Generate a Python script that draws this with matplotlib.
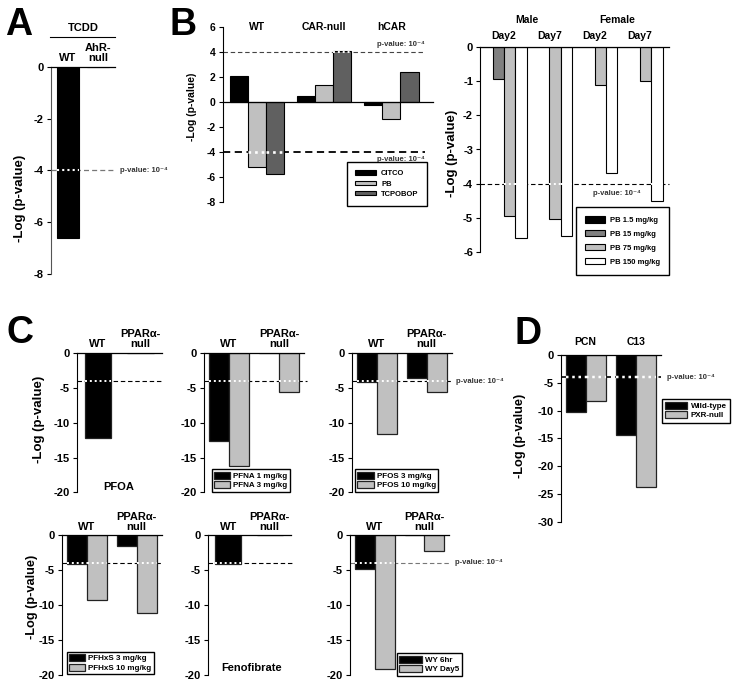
"""Multi-panel -Log(p-value) bar figure (panels A-D)."""

import matplotlib
matplotlib.use("Agg")
import matplotlib.pyplot as plt
from matplotlib.lines import Line2D
import numpy as np

plt.rcParams["font.family"] = ["Liberation Sans", "DejaVu Sans"]
plt.rcParams["font.weight"] = "bold"
plt.rcParams["axes.unicode_minus"] = False

W, H = 733, 682
THR = -4
PLABEL = "p-value: 10\u207b\u2074"
GRAY = "#c0c0c0"

# ---- data ---------------------------------------------------------------
# A: TCDD
a_groups = ["WT", "AhR-\nnull"]
a_tcdd = [-6.6, 0.0]

# B (left): CAR activators
b1_groups = ["WT", "CAR-null", "hCAR"]
b1_series = ["CITCO", "PB", "TCPOBOP"]
b1_colors = ["black", GRAY, "#606060"]
b1_citco = [2.1, 0.5, -0.25]
b1_pb = [-5.2, 1.4, -1.4]
b1_tcpobop = [-5.75, 4.1, 2.4]

# B (right): PB dose / time / sex
b2_sex = ["Male", "Female"]
b2_days = ["Day2", "Day7", "Day2", "Day7"]
b2_series = ["PB 1.5 mg/kg", "PB 15 mg/kg", "PB 75 mg/kg", "PB 150 mg/kg"]
b2_colors = ["black", "#808080", GRAY, "white"]
b2_pb1_5 = [0.0, 0.0, 0.0, 0.0]
b2_pb15 = [-0.93, 0.0, 0.0, 0.0]
b2_pb75 = [-4.95, -5.05, -1.1, -1.0]
b2_pb150 = [-5.6, -5.55, -3.7, -4.5]

# C: PPARa activators
c_groups = ["WT", "PPAR\u03b1-\nnull"]
pfoa = [-12.2, 0.0]
pfna_1 = [-12.6, 0.0]
pfna_3 = [-16.2, -5.6]
pfos_3 = [-4.1, -3.6]
pfos_10 = [-11.6, -5.5]
pfhxs_3 = [-4.2, -1.6]
pfhxs_10 = [-9.3, -11.1]
fenofibrate = [-4.15, 0.0]
wy_6hr = [-4.9, 0.0]
wy_day5 = [-19.2, -2.3]

# D: PXR activators
d_groups = ["PCN", "C13"]
d_series = ["Wild-type", "PXR-null"]
d_wild = [-10.2, -14.4]
d_pxr = [-8.3, -23.8]

c_ticks = [0, -5, -10, -15, -20]

fig = plt.figure(figsize=(W / 100, H / 100), dpi=100)


def px_axes(x0, y0, x1, y1, spine="black"):
    ax = fig.add_axes([x0 / W, 1 - y1 / H, (x1 - x0) / W, (y1 - y0) / H])
    ax.patch.set_visible(False)
    for s in ("top", "right", "bottom"):
        ax.spines[s].set_visible(False)
    ax.spines["left"].set_linewidth(0.8)
    ax.spines["left"].set_color(spine)
    ax.set_xticks([])
    return ax


def finish(ax, yticks, fs=8):
    yticks = list(yticks)
    ax.set_ylim(min(yticks), max(yticks))
    ax.set_yticks(yticks)
    ax.tick_params(axis="y", length=3, width=0.8, pad=2, labelsize=fs)
    ax.axhline(0, color="black", lw=0.9, zorder=4, clip_on=False)


def threshold(ax, y=THR, xmax=1.0, color="black", lw=0.8, dash=(4, 2.5)):
    ax.axhline(y, xmax=xmax, color=color, lw=lw, ls=(0, dash), zorder=1.5,
               clip_on=False)
    for p in list(ax.patches):
        lo, hi = sorted([p.get_y(), p.get_y() + p.get_height()])
        if lo < y < hi:
            ax.plot([p.get_x(), p.get_x() + p.get_width()], [y, y],
                    color="white", lw=lw + 0.6, ls=(0, (1, 1.5)), zorder=3)


def group_labels(ax, xs, labels, dy_px, fs, va="bottom"):
    for x, lab in zip(xs, labels):
        ax.annotate(lab, xy=(x, 1), xycoords=("data", "axes fraction"),
                    xytext=(0, dy_px * 0.72), textcoords="offset points",
                    ha="center", va=va, fontsize=fs, linespacing=0.95)


def legend(ax, x0, y0, fs, hl, hh, ls, pad, tpad=0.6):
    leg = ax.legend(loc="upper left", bbox_to_anchor=(x0 / W, 1 - y0 / H),
                    bbox_transform=fig.transFigure, borderaxespad=0,
                    fancybox=False, edgecolor="black", framealpha=1,
                    fontsize=fs, handlelength=hl, handleheight=hh,
                    labelspacing=ls, borderpad=pad, handletextpad=tpad)
    leg.get_frame().set_linewidth(1.0)
    return leg


def pair_panel(box, series, names, colors, yticks):
    ax = px_axes(*box)
    x = np.arange(2)
    n = len(series)
    w = 0.4 if n == 2 else 0.63
    for i, (vals, name, col) in enumerate(zip(series, names, colors)):
        ax.bar(x + (i - (n - 1) / 2) * w, vals, w, color=col,
               edgecolor="#222222", lw=0.9, label=name, zorder=2)
    finish(ax, yticks)
    ax.set_xlim(-0.5, 1.5)
    return ax


def ylabel(x, y, fs):
    fig.text(x / W, 1 - y / H, "-Log (p-value)", rotation=90, ha="center",
             va="center", fontsize=fs)


# ---- A --------------------------------------------------------------------
ax = px_axes(50.7, 67, 115, 274, spine="#555555")
x = np.arange(len(a_groups))
ax.bar(x, a_tcdd, 0.73, color="black", edgecolor="black", lw=0.8, zorder=2)
finish(ax, range(0, -9, -2))
threshold(ax, xmax=0.97, color="#777777", lw=0.9)
ax.set_xlim(-0.58, 1.57)
group_labels(ax, x, a_groups, 4, 8)
ax.text(1.08, THR, PLABEL, transform=ax.get_yaxis_transform(), ha="left",
        va="center", fontsize=5.5, color="#333333")
fig.text(83 / W, 1 - 28 / H, "TCDD", ha="center", va="center", fontsize=8)
fig.add_artist(Line2D([50 / W, 115 / W], [1 - 37.3 / H] * 2, color="black",
                      lw=0.8))
ylabel(20, 198, 9.5)

# ---- B left ---------------------------------------------------------------
ax = px_axes(222.7, 27.3, 433, 201.7)
x = np.arange(len(b1_groups))
w = 0.27
for i, (vals, name, col) in enumerate(zip([b1_citco, b1_pb, b1_tcpobop],
                                          b1_series, b1_colors)):
    ax.bar(x + (i - 1) * w, vals, w, color=col, edgecolor="black", lw=0.8,
           label=name, zorder=2)
finish(ax, range(6, -9, -2), fs=7.5)
threshold(ax, y=4, xmax=0.962, color="#444444", lw=0.8)
threshold(ax, y=-4, xmax=0.962, color="black", lw=1.3)
ax.set_xlim(-0.515, 2.62)
for g, lab in zip(x, b1_groups):
    ax.text(g, 6, lab, ha="center", va="center", fontsize=7.5)
ax.text(0.962, 4.3, PLABEL, transform=ax.get_yaxis_transform(), ha="right",
        va="bottom", fontsize=5.5, color="#333333")
ax.text(0.962, -4.35, PLABEL, transform=ax.get_yaxis_transform(), ha="right",
        va="top", fontsize=5.5, color="#333333")
legend(ax, 346.7, 161.7, 5.5, 2.8, 0.5, 0.45, 1.1)
ylabel(191.7, 107, 7.5)

# ---- B right --------------------------------------------------------------
ax = px_axes(480, 47.3, 669, 251.7)
ns = len(b2_series)
for s, (vals, name, col) in enumerate(zip([b2_pb1_5, b2_pb15, b2_pb75, b2_pb150],
                                          b2_series, b2_colors)):
    xs = np.arange(len(b2_days)) * ns + s
    ax.bar(xs, vals, 1.0, color=col, edgecolor="black", lw=0.8, label=name,
           zorder=2)
finish(ax, range(0, -7, -1))
threshold(ax, xmax=1.0, color="black", lw=0.8)
ax.set_xlim(-0.62, 16.06)
centers = np.arange(len(b2_days)) * ns + (ns - 1) / 2
group_labels(ax, centers, b2_days, 11.3, 7.5, va="center")
group_labels(ax, [centers[0:2].mean(), centers[2:4].mean()], b2_sex, 27.3,
             7.5, va="center")
ax.text(0.723, -4.3, PLABEL, transform=ax.get_yaxis_transform(), ha="center",
        va="center", fontsize=5.5, color="#333333")
legend(ax, 576, 207.3, 5.5, 2.6, 0.85, 0.8, 1.2)
ylabel(451.7, 153, 9.5)

# ---- C --------------------------------------------------------------------
ax = pair_panel((76.7, 353.3, 161.7, 492.3), [pfoa], ["PFOA"], ["black"],
                c_ticks)
threshold(ax, xmax=1.02)
group_labels(ax, [0, 1], c_groups, 4.3, 8)
ax.text(0.49, 0.04, "PFOA", transform=ax.transAxes, ha="center",
        va="center", fontsize=8)

ax = pair_panel((204, 353.3, 304, 492.3), [pfna_1, pfna_3],
                ["PFNA 1 mg/kg", "PFNA 3 mg/kg"], ["black", GRAY], c_ticks)
threshold(ax, xmax=1.03)
group_labels(ax, [0, 1], c_groups, 4.3, 8)
legend(ax, 211.7, 469.3, 5.8, 2.0, 0.95, 0.15, 0.3, 0.4)

ax = pair_panel((351.5, 353.3, 451.5, 492.3), [pfos_3, pfos_10],
                ["PFOS 3 mg/kg", "PFOS 10 mg/kg"], ["black", GRAY], c_ticks)
threshold(ax, xmax=1.015)
group_labels(ax, [0, 1], c_groups, 4.3, 8)
ax.text(1.045, THR, PLABEL, transform=ax.get_yaxis_transform(), ha="left",
        va="center", fontsize=5.5, color="#333333")
legend(ax, 355, 469.3, 5.8, 2.0, 0.95, 0.15, 0.3, 0.4)
ylabel(39, 419, 9.5)

ax = pair_panel((61.5, 535, 161.5, 675), [pfhxs_3, pfhxs_10],
                ["PFHxS 3 mg/kg", "PFHxS 10 mg/kg"], ["black", GRAY], c_ticks)
threshold(ax, xmax=1.0)
group_labels(ax, [0, 1], c_groups, 3.3, 8)
legend(ax, 66.7, 651.7, 5.8, 2.0, 0.95, 0.15, 0.3, 0.4)
ylabel(31.7, 597, 9.2)

ax = pair_panel((207.5, 535, 290.5, 675), [fenofibrate], ["Fenofibrate"],
                ["black"], c_ticks)
threshold(ax, xmax=1.015)
group_labels(ax, [0, 1], c_groups, 3.3, 8)
ax.text(0.53, 0.048, "Fenofibrate", transform=ax.transAxes, ha="center",
        va="center", fontsize=8)

ax = pair_panel((349.5, 535, 449.5, 675), [wy_6hr, wy_day5],
                ["WY 6hr", "WY Day5"], ["black", GRAY], c_ticks)
threshold(ax, xmax=1.02, color="#777777")
group_labels(ax, [0, 1], c_groups, 3.3, 8)
ax.text(1.055, THR, PLABEL, transform=ax.get_yaxis_transform(), ha="left",
        va="center", fontsize=5.5, color="#333333")
legend(ax, 396.7, 653.3, 5.8, 2.8, 0.95, 0.15, 0.3, 0.4)

# ---- D --------------------------------------------------------------------
ax = pair_panel((560.5, 355, 661, 521.7), [d_wild, d_pxr], d_series,
                ["black", GRAY], range(0, -31, -5))
threshold(ax, xmax=1.0, lw=1.2)
group_labels(ax, [0, 1], d_groups, 7.7, 7.5)
ax.text(1.057, THR, PLABEL, transform=ax.get_yaxis_transform(), ha="left",
        va="center", fontsize=5.5, color="#333333")
legend(ax, 661.7, 399, 5.8, 2.8, 0.85, 0.15, 0.4, 0.4)
ylabel(520, 436, 9.2)

# ---- panel letters -----------------------------------------------------------
for lab, xc, yb in [("A", 18.5, 35), ("B", 183, 35), ("C", 20, 343),
                    ("D", 528, 344)]:
    fig.text(xc / W, 1 - yb / H, lab, ha="center", va="baseline",
             fontsize=27, fontweight="bold")

fig.savefig("out.png", dpi=100)
